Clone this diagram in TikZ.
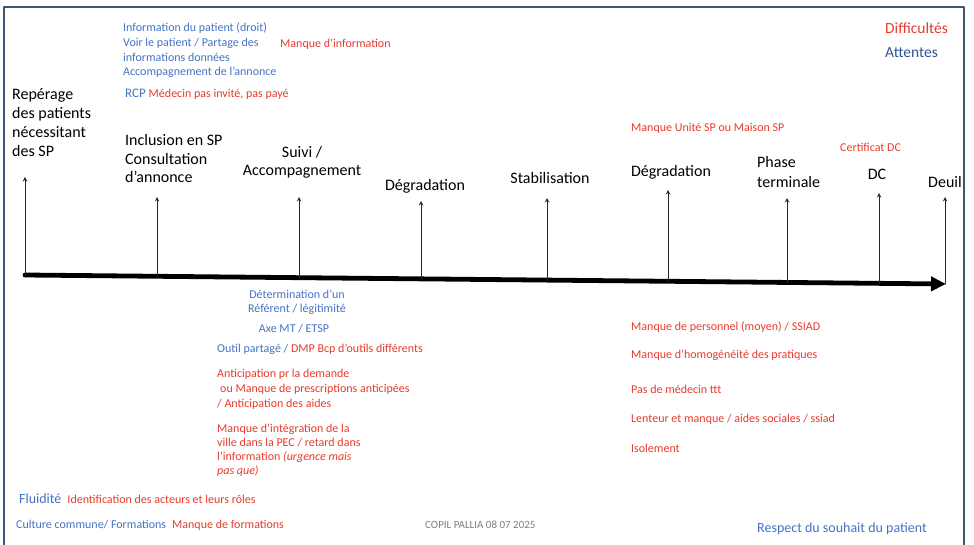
\documentclass[tikz,border=0pt]{standalone}
\usepackage{fontspec}
\setmainfont{Carlito}
\usetikzlibrary{arrows.meta}
\definecolor{rouge}{RGB}{232,58,42}
\definecolor{bleu}{RGB}{68,114,196}
\definecolor{bleufonce}{RGB}{47,85,151}
\definecolor{cadre}{RGB}{58,86,112}
\definecolor{gris}{RGB}{128,128,128}
\newcommand{\fs}[2]{\fontsize{#1}{#2}\selectfont}
\begin{document}
\begin{tikzpicture}[line join=round, line cap=round, >=stealth, x=1pt, y=-1pt,
  etape/.style={inner sep=0pt, font=\fs{16}{19}, align=left, yshift=-2.5pt},
  manque/.style={inner sep=0pt, text=rouge, font=\fs{12}{14.5}, align=left, yshift=-2.5pt},
  attente/.style={inner sep=0pt, text=bleu, font=\fs{12}{14.5}, align=left, yshift=-2.5pt},
  tick/.style={->, line width=1pt, black!85}]
\useasboundingbox (0,0) rectangle (974,545);
\draw[cadre, line width=1.3pt] (4,545) -- (4,7) -- (964,7) -- (964,545);
% frise
\coordinate (debut) at (25,275);
\coordinate (fin) at (946,284);
\draw[line width=4.8pt, -{Triangle[length=15pt,width=14pt]}] (debut) -- (fin);
\foreach \i/\x/\yb/\yh in {1/25/275/177,2/157/276.3/197,3/299/277.7/197,4/421/278.9/201,5/547/280.1/198,6/668/281.3/190,7/787/282.5/198,8/879/283.4/193,9/945/284/197}
{\coordinate (b\i) at (\x,\yb); \coordinate (h\i) at (\x,\yh); \draw[tick] (b\i) -- (h\i);}
% etapes
\node[etape, anchor=north west] (rep) at (12,86) {Repérage\\des patients\\nécessitant\\des SP};
\node[etape, anchor=north west, font=\fs{16}{18.5}] (incl) at (125,132) {Inclusion en SP\\Consultation\\d’annonce};
\node[etape, anchor=north, align=center, font=\fs{16}{18}] (suivi) at (302,144) {Suivi /\\Accompagnement};
\node[etape, anchor=mid] (deg1) at (425,186) {Dégradation};
\node[etape, anchor=mid] (stab) at (550,179) {Stabilisation};
\node[etape, anchor=mid] (deg2) at (671,172) {Dégradation};
\node[etape, anchor=north west, font=\fs{16}{20}] (phase) at (757,154) {Phase\\terminale};
\node[etape, anchor=mid] (dc) at (877,175) {DC};
\node[etape, anchor=mid] (deuil) at (945,183) {Deuil};
% legende
\node[manque, anchor=mid west, font=\fs{15.5}{18}] (diff) at (885,29) {Difficultés};
\node[attente, anchor=mid west, text=bleufonce, font=\fs{15.5}{18}] (att) at (885,53) {Attentes};
% au-dessus
\node[attente, anchor=north west, font=\fs{12}{14.8}] (info) at (123,20) {Information du patient (droit)\\Voir le patient / Partage des\\informations données\\Accompagnement de l’annonce};
\node[manque, anchor=mid west] (minfo) at (280,43) {Manque d’information};
\node[attente, anchor=mid west, font=\fs{13}{15}] (rcp) at (125,93) {RCP \textcolor{rouge}{\fs{12}{14}Médecin pas invité, pas payé}};
\node[manque, anchor=mid west] (unite) at (631,127) {Manque Unité SP ou Maison SP};
\node[manque, anchor=mid west] (certif) at (840,147) {Certificat DC};
% au-dessous
\node[attente, anchor=north, align=center, font=\fs{12}{14}] (referent) at (297,287) {Détermination d’un\\Référent / légitimité};
\node[attente, anchor=mid] (axe) at (294,328) {Axe MT / ETSP};
\node[attente, anchor=mid west] (outil) at (217,348) {Outil partagé / \textcolor{rouge}{DMP Bcp d’outils différents}};
\node[manque, anchor=north west, font=\fs{12}{15}] (antic) at (217,366) {Anticipation pr la demande\\\hspace{3pt}ou Manque de prescriptions anticipées\\/ Anticipation des aides};
\node[manque, anchor=north west, font=\fs{12}{14}] (integ) at (217,421) {Manque d’intégration de la\\ville dans la PEC / retard dans\\l’information \textit{(urgence mais}\\\textit{pas que)}};
\foreach \y/\t [count=\i] in {326/{Manque de personnel (moyen) / SSIAD},354/{Manque d’homogénéité des pratiques},389/{Pas de médecin ttt},418/{Lenteur et manque / aides sociales / ssiad},448/{Isolement}}
  \node[manque, anchor=mid west] (r\i) at (631,\y) {\t};
% bas
\node[attente, anchor=mid west, font=\fs{14}{16}] (fluid) at (19,499) {Fluidité\hspace{6pt}\textcolor{rouge}{\fs{12}{14}Identification des acteurs et leurs rôles}};
\node[attente, anchor=mid west] (culture) at (16,524) {Culture commune/ Formations\hspace{6pt}\textcolor{rouge}{Manque de formations}};
\node[anchor=mid west, inner sep=0pt, text=gris, font=\fs{11}{13}, yshift=-2.5pt] (copil) at (425,524) {COPIL PALLIA 08 07 2025};
\node[attente, anchor=mid west, font=\fs{14}{16}] (respect) at (757,528) {Respect du souhait du patient};
\end{tikzpicture}
\end{document}
